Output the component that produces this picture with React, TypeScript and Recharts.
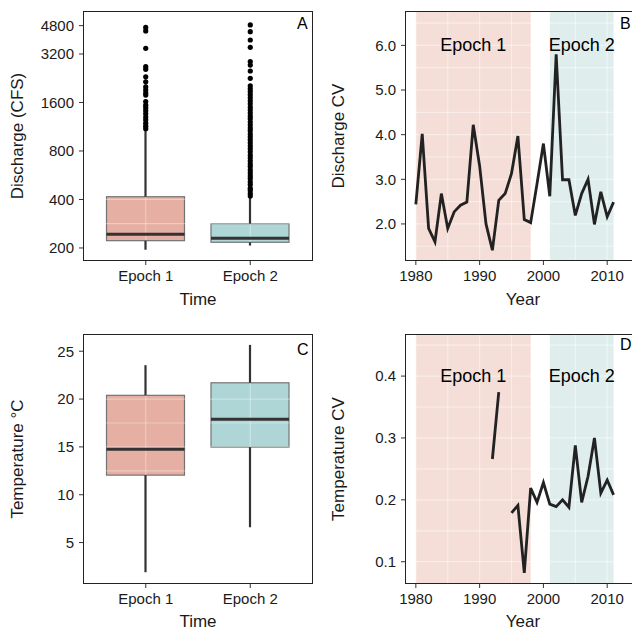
import { ComposedChart, Bar, Line, Scatter, XAxis, YAxis, ReferenceArea, ReferenceLine } from 'recharts';

// ---- boxplot panels (A: discharge, C: temperature) ----
const epochs = ['Epoch 1', 'Epoch 2'];
const boxFills = ['#E5AFA3', '#AFD6D6'];

const dischargeLow = [195, 207];
const dischargeQ1 = [222, 217];
const dischargeMedian = [243, 230];
const dischargeQ3 = [416, 283];
const dischargeHigh = [1080, 415];
const dischargeOutliers1 = [4680, 4450, 3470, 2670, 2570, 2310, 2150, 2000, 1910, 1830, 1780, 1620, 1540, 1480, 1420, 1360, 1300, 1250, 1190, 1140, 1100];
const dischargeOutliers2 = [
  4850, 4400, 3910, 3520, 2870, 2730, 2510, 2260, 2030, 1950, 1870, 1790, 1710, 1640, 1570, 1500, 1440, 1380,
  1320, 1270, 1210, 1160, 1110, 1070, 1020, 980, 940, 900, 860, 825, 790, 755, 725, 695, 665, 640, 610, 585,
  560, 540, 515, 495, 470, 455, 435, 420,
];
const dischargeTicks = [200, 400, 800, 1600, 3200, 4800];
const dischargeGrid = [200, 283, 400, 566, 800, 1131, 1600, 2263, 3200, 3919, 4800];

const tempLow = [1.9, 6.6];
const tempQ1 = [12.05, 14.97];
const tempMedian = [14.76, 17.9];
const tempQ3 = [20.39, 21.7];
const tempHigh = [23.54, 25.66];
const tempTicks = [5, 10, 15, 20, 25];
const tempGrid = [2.5, 5, 7.5, 10, 12.5, 15, 17.5, 20, 22.5, 25];

// ---- CV time series panels (B, D) ----
const years = [
  1980, 1981, 1982, 1983, 1984, 1985, 1986, 1987, 1988, 1989, 1990, 1991, 1992, 1993, 1994, 1995,
  1996, 1997, 1998, 1999, 2000, 2001, 2002, 2003, 2004, 2005, 2006, 2007, 2008, 2009, 2010, 2011,
];
const dischargeCV = [
  2.44, 4.02, 1.9, 1.6, 2.68, 1.9, 2.27, 2.42, 2.49, 4.22, 3.3, 2.0, 1.41, 2.53, 2.68, 3.13,
  3.97, 2.1, 2.03, 2.9, 3.8, 2.62, 5.8, 2.99, 2.99, 2.19, 2.68, 3.0, 1.99, 2.72, 2.16, 2.49,
];
const temperatureCV = [
  null, null, null, null, null, null, null, null, null, null, null, null, 0.266, 0.374, null, 0.179,
  0.191, 0.082, 0.219, 0.196, 0.228, 0.193, 0.189, 0.2, 0.188, 0.288, 0.196, 0.238, 0.3, 0.211, 0.232, 0.208,
];
const yearTicks = [1980, 1990, 2000, 2010];
const yearGrid = [1980, 1985, 1990, 1995, 2000, 2005, 2010, 2015];
const epochSpans = [
  { label: 'Epoch 1', from: 1980, to: 1998, fill: '#F4DED7' },
  { label: 'Epoch 2', from: 2001, to: 2011, fill: '#DFEEED' },
];
const dischargeCVTicks = [2, 3, 4, 5, 6];
const dischargeCVGrid = [1.5, 2, 2.5, 3, 3.5, 4, 4.5, 5, 5.5, 6, 6.5];
const tempCVTicks = [0.1, 0.2, 0.3, 0.4];
const tempCVGrid = [0.1, 0.15, 0.2, 0.25, 0.3, 0.35, 0.4, 0.45];

const FONT = '"Liberation Sans", Arial, Helvetica, sans-serif';
const INK = '#1a1a1a';
const TICK = { fontSize: 15, fill: INK, fontFamily: FONT };
const TITLE = { fontSize: 17, fill: INK, fontFamily: FONT };

const WhiskerShape = (p: any) => (
  <line x1={p.x + p.width / 2} x2={p.x + p.width / 2} y1={p.y} y2={p.y + p.height} stroke="#333" strokeWidth={2.2} />
);
const BoxShape = (p: any) => (
  <rect x={p.x} y={Math.min(p.y, p.y + p.height)} width={p.width} height={Math.abs(p.height)} fill={p.payload.fill} stroke="#737373" strokeWidth={1.2} />
);
const MedianShape = (p: any) => (
  <line x1={p.x} x2={p.x + p.width} y1={p.y} y2={p.y} stroke="#333" strokeWidth={3} />
);
const Dot = (p: any) => <circle cx={p.cx} cy={p.cy} r={2.6} fill="#000" />;

const buildBoxes = (low: number[], q1: number[], med: number[], q3: number[], high: number[]) =>
  epochs.map((epoch, i) => ({
    epoch,
    lowerWhisker: [low[i], q1[i]],
    upperWhisker: [q3[i], high[i]],
    box: [q1[i], q3[i]],
    median: [med[i], med[i]],
    fill: boxFills[i],
  }));

interface BoxPanelProps {
  data: any[];
  outliers: { pos: number; value: number }[];
  log?: boolean;
  domain: [number, number];
  ticks: number[];
  grid: number[];
  yLabel: string;
  marginTop: number;
  height: number;
  xLabelOffset: number;
}

const BoxPanel = ({ data, outliers, log, domain, ticks, grid, yLabel, marginTop, height, xLabelOffset }: BoxPanelProps) => (
  <ComposedChart width={316} height={height} data={data} margin={{ top: marginTop, right: 3, bottom: 0, left: 0 }} barGap={-78}>
    <XAxis
      dataKey="epoch"
      padding={{ left: 10.5, right: 10.5 }}
      height={height - marginTop - 250}
      tickSize={4}
      tickMargin={5}
      axisLine={false}
      tickLine={{ stroke: '#333' }}
      tick={TICK}
      label={{ value: 'Time', position: 'insideBottom', offset: xLabelOffset, style: TITLE }}
    />
    <XAxis xAxisId="num" dataKey="pos" type="number" domain={[0.4, 2.6]} hide />
    <YAxis
      type="number"
      scale={log ? 'log' : 'linear'}
      domain={domain}
      ticks={ticks}
      allowDataOverflow
      width={83}
      tickSize={4}
      tickMargin={5}
      axisLine={false}
      tickLine={{ stroke: '#333' }}
      tick={TICK}
      label={{ value: yLabel, angle: -90, position: 'insideLeft', offset: 17, style: { ...TITLE, textAnchor: 'middle' } }}
    />
    <Bar dataKey="box" barSize={78} shape={BoxShape} isAnimationActive={false} zIndex={200} />
    {grid.map((v) => (
      <ReferenceLine key={'h' + v} y={v} stroke="#fff" strokeOpacity={0.35} strokeWidth={1.2} zIndex={250} />
    ))}
    {data.map((d) => (
      <ReferenceLine
        key={'v' + d.epoch}
        segment={[{ x: d.epoch, y: d.box[0] }, { x: d.epoch, y: d.box[1] }]}
        stroke="#fff"
        strokeOpacity={0.35}
        strokeWidth={1.2}
        zIndex={250}
      />
    ))}
    <Bar dataKey="lowerWhisker" barSize={78} shape={WhiskerShape} isAnimationActive={false} zIndex={300} />
    <Bar dataKey="upperWhisker" barSize={78} shape={WhiskerShape} isAnimationActive={false} zIndex={300} />
    <Bar dataKey="median" barSize={78} shape={MedianShape} isAnimationActive={false} zIndex={300} />
    <Scatter xAxisId="num" data={outliers} dataKey="value" shape={Dot} isAnimationActive={false} />
  </ComposedChart>
);

interface CVPanelProps {
  values: (number | null)[];
  domain: [number, number];
  ticks: number[];
  grid: number[];
  yLabel: string;
  marginTop: number;
  height: number;
  xLabelOffset: number;
  labelOffset: number;
}

const CVPanel = ({ values, domain, ticks, grid, yLabel, marginTop, height, xLabelOffset, labelOffset }: CVPanelProps) => {
  const data = years.map((year, i) => ({ year, cv: values[i] }));
  return (
    <ComposedChart width={330} height={height} data={data} margin={{ top: marginTop, right: 5, bottom: 0, left: 0 }}>
      <XAxis
        dataKey="year"
        type="number"
        domain={[1978.3, 2015.3]}
        ticks={yearTicks}
        allowDataOverflow
        height={height - marginTop - 250}
        tickSize={4}
        tickMargin={5}
        axisLine={false}
        tickLine={{ stroke: '#333' }}
        tick={TICK}
        label={{ value: 'Year', position: 'insideBottom', offset: xLabelOffset, style: TITLE }}
      />
      <YAxis
        type="number"
        domain={domain}
        ticks={ticks}
        allowDataOverflow
        width={89}
        tickSize={4}
        tickMargin={5}
        axisLine={false}
        tickLine={{ stroke: '#333' }}
        tick={TICK}
        tickFormatter={(v: number) => v.toFixed(1)}
        label={{ value: yLabel, angle: -90, position: 'insideLeft', offset: 22, style: { ...TITLE, textAnchor: 'middle' } }}
      />
      {epochSpans.map((s) => (
        <ReferenceArea
          key={s.label}
          x1={s.from}
          x2={s.to}
          fill={s.fill}
          fillOpacity={1}
          stroke="none"
          label={{ value: s.label, position: 'insideTop', offset: labelOffset, style: { fontSize: 18, fill: '#000', fontFamily: FONT } }}
        />
      ))}
      {grid.map((v) => (
        <ReferenceLine key={'h' + v} y={v} stroke="#fff" strokeOpacity={0.45} strokeWidth={1.2} />
      ))}
      {yearGrid.map((v) => (
        <ReferenceLine key={'v' + v} x={v} stroke="#fff" strokeOpacity={0.45} strokeWidth={1.2} />
      ))}
      <Line dataKey="cv" stroke="#222" strokeWidth={2.8} dot={false} isAnimationActive={false} />
    </ComposedChart>
  );
};

const border = (left: number, top: number, width: number) => ({
  position: 'absolute' as const,
  left,
  top,
  width,
  height: 250,
  boxSizing: 'border-box' as const,
  border: '1px solid #222',
  pointerEvents: 'none' as const,
});

const letter = (left: number, top: number) => ({
  position: 'absolute' as const,
  left,
  top,
  fontSize: 16,
  lineHeight: '16px',
  fontFamily: FONT,
  color: '#000',
});

export default function App() {
  const dischargeBoxes = buildBoxes(dischargeLow, dischargeQ1, dischargeMedian, dischargeQ3, dischargeHigh);
  const tempBoxes = buildBoxes(tempLow, tempQ1, tempMedian, tempQ3, tempHigh);
  const dischargeOutliers = [
    ...dischargeOutliers1.map((value) => ({ pos: 1, value })),
    ...dischargeOutliers2.map((value) => ({ pos: 2, value })),
  ];

  return (
    <div style={{ position: 'absolute', left: 0, top: 0, width: 632, height: 630, overflow: 'hidden', background: '#fff' }}>
      <div style={{ position: 'absolute', left: 0, top: 0 }}>
        <BoxPanel
          data={dischargeBoxes}
          outliers={dischargeOutliers}
          log
          domain={[166, 5917]}
          ticks={dischargeTicks}
          grid={dischargeGrid}
          yLabel="Discharge (CFS)"
          marginTop={11}
          height={310}
          xLabelOffset={5}
        />
      </div>
      <div style={{ position: 'absolute', left: 316, top: 0 }}>
        <CVPanel
          values={dischargeCV}
          domain={[1.17, 6.77]}
          ticks={dischargeCVTicks}
          grid={dischargeCVGrid}
          yLabel="Discharge CV"
          marginTop={11}
          height={310}
          xLabelOffset={5}
          labelOffset={27}
        />
      </div>
      <div style={{ position: 'absolute', left: 0, top: 310 }}>
        <BoxPanel
          data={tempBoxes}
          outliers={[]}
          domain={[0.67, 26.8]}
          ticks={tempTicks}
          grid={tempGrid}
          yLabel="Temperature °C"
          marginTop={24}
          height={320}
          xLabelOffset={3}
        />
      </div>
      <div style={{ position: 'absolute', left: 316, top: 310 }}>
        <CVPanel
          values={temperatureCV}
          domain={[0.064, 0.468]}
          ticks={tempCVTicks}
          grid={tempCVGrid}
          yLabel="Temperature CV"
          marginTop={24}
          height={320}
          xLabelOffset={3}
          labelOffset={35}
        />
      </div>
      <div style={border(83, 11, 230)} />
      <div style={border(405, 11, 300)} />
      <div style={border(83, 334, 230)} />
      <div style={border(405, 334, 300)} />
      <div style={letter(297, 16)}>A</div>
      <div style={letter(620, 16)}>B</div>
      <div style={letter(297, 342)}>C</div>
      <div style={letter(620, 337)}>D</div>
    </div>
  );
}
